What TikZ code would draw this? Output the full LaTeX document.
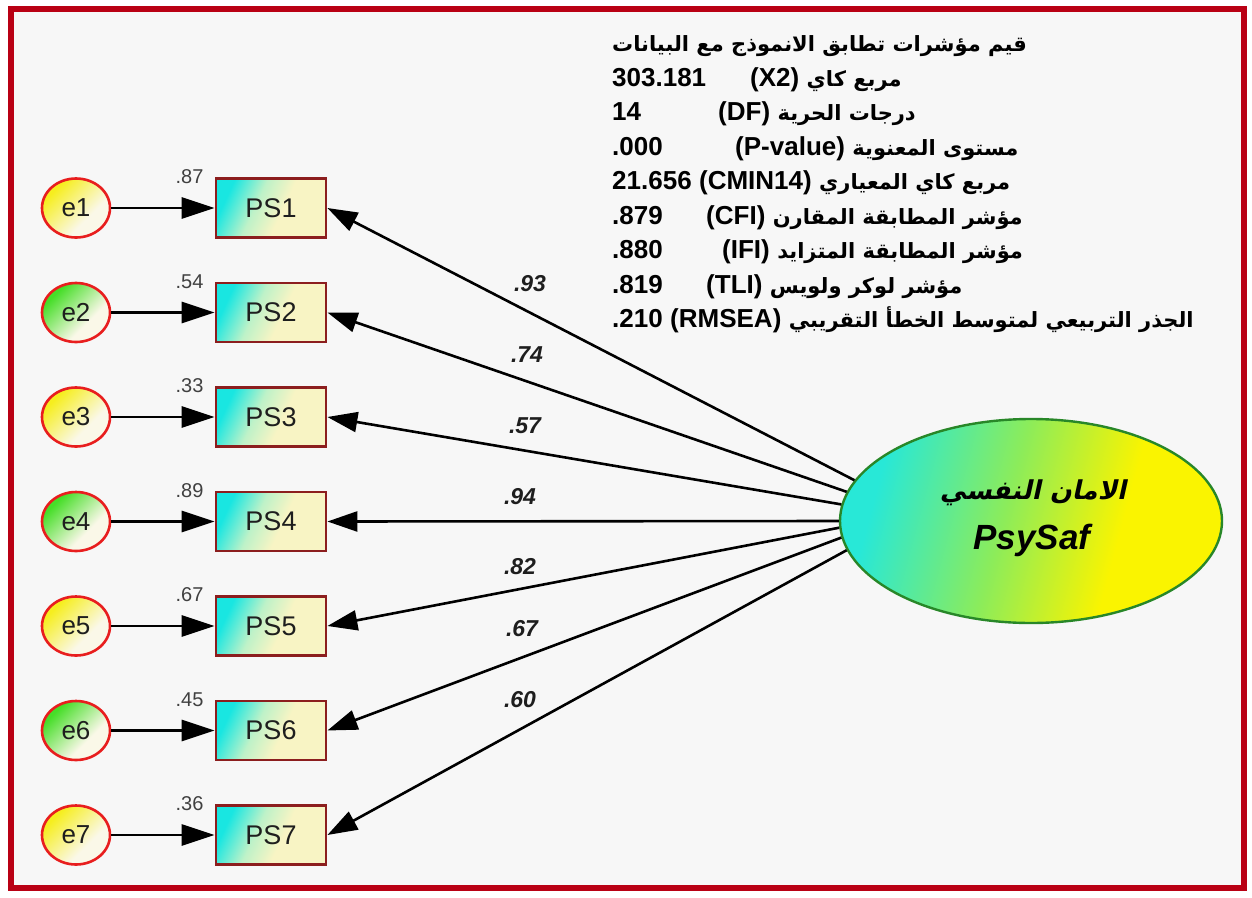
\documentclass[tikz,border=0pt]{standalone}
\usepackage{fontspec}
\setmainfont{Liberation Sans}
\newfontfamily\arab[Script=Arabic]{DejaVu Sans}
\newfontfamily\arabslant[Script=Arabic,FakeSlant=0.22]{DejaVu Sans Bold}
\TeXXeTstate=1
\usetikzlibrary{arrows.meta,shapes.geometric}

\definecolor{framered}{RGB}{185,0,20}
\definecolor{bggray}{RGB}{247,247,247}
\definecolor{ey}{RGB}{246,238,30}
\definecolor{eg}{RGB}{70,222,40}
\definecolor{ecream}{RGB}{250,248,232}
\definecolor{eborder}{RGB}{232,30,30}
\definecolor{bcyan}{RGB}{25,230,225}
\definecolor{bmid}{RGB}{190,242,200}
\definecolor{bcream}{RGB}{248,244,196}
\definecolor{bborder}{RGB}{140,30,30}
\definecolor{lcyan}{RGB}{40,232,215}
\definecolor{lgreen}{RGB}{140,236,90}
\definecolor{lyellow}{RGB}{250,244,0}
\definecolor{lborder}{RGB}{40,135,40}
\definecolor{txt}{RGB}{30,30,30}

% colour ramps for the three kinds of shapes
\pgfdeclarehorizontalshading{yelshade}{100bp}{color(0bp)=(ey); color(28bp)=(ey); color(62bp)=(ecream); color(100bp)=(ecream)}
\pgfdeclarehorizontalshading{grnshade}{100bp}{color(0bp)=(eg); color(28bp)=(eg); color(62bp)=(ecream); color(100bp)=(ecream)}
\pgfdeclarehorizontalshading{boxshade}{100bp}{color(0bp)=(bcyan); color(26bp)=(bcyan); color(42bp)=(bmid); color(56bp)=(bcream); color(100bp)=(bcream)}
\pgfdeclarehorizontalshading{latshade}{100bp}{color(0bp)=(lcyan); color(27bp)=(lcyan); color(46bp)=(lgreen); color(63bp)=(lyellow); color(100bp)=(lyellow)}

\begin{document}
\begin{tikzpicture}[x=1pt,y=-1pt,
  errnode/.style={ellipse, draw=eborder, line width=2.6pt, minimum width=68pt,
    minimum height=59pt, inner sep=0pt, shading angle=-45,
    font=\fontsize{26}{26}\selectfont, text=txt},
  obsbox/.style={rectangle, draw=bborder, line width=2.8pt, minimum width=110pt,
    minimum height=59pt, inner sep=0pt, shading=boxshade, shading angle=-25,
    font=\fontsize{27}{27}\selectfont, text=txt},
  latnode/.style={ellipse, draw=lborder, line width=2.4pt, minimum width=382pt,
    minimum height=204pt, inner sep=0pt, shading=latshade, shading angle=-15},
  errarrow/.style={line width=2.8pt, -{Triangle[length=33pt,width=21pt]}},
  loadarrow/.style={line width=2.6pt, -{Triangle[length=30pt,width=20pt]}},
  varlab/.style={font=\fontsize{20}{20}\selectfont, text=black!75, inner sep=0pt},
  loadlab/.style={font=\fontsize{23}{23}\selectfont\bfseries\itshape, text=txt, inner sep=0pt},
  numtxt/.style={anchor=base west, inner sep=0pt, font=\fontsize{26}{26}\selectfont\bfseries},
  artxt/.style={anchor=base west, inner sep=0pt, font=\fontsize{21}{21}\selectfont\arab\bfseries}
]
\useasboundingbox (0,0) rectangle (1252,897);
\fill[white] (0,0) rectangle (1252,897);
\draw[line width=6pt, framered, fill=bggray] (11,9) rectangle (1244,888);

% indicators, their error terms and squared multiple correlations
\foreach \i/\sh/\v in {1/yelshade/.87, 2/grnshade/.54, 3/yelshade/.33, 4/grnshade/.89,
                       5/yelshade/.67, 6/grnshade/.45, 7/yelshade/.36}{
  \pgfmathsetmacro\yy{208+104.5*(\i-1)}
  \node[errnode, shading=\sh] (e\i) at (76,\yy) {e\i};
  \node[obsbox] (PS\i) at (271,\yy) {PS\i};
  \draw[errarrow] (e\i) -- (PS\i);
  \node[varlab, anchor=east] (v\i) at ([xshift=-11pt]PS\i.north west) {\v};
}

% latent factor
\node[latnode] (lat) at (1031,521) {};
\node[font=\fontsize{26}{26}\selectfont\arabslant, text=black, inner sep=0pt]
  (latar) at (1033,493) {\beginR الامان النفسي\endR};
\node[font=\fontsize{35}{35}\selectfont\bfseries\itshape, text=black, inner sep=0pt]
  (laten) at (1032,540) {PsySaf};

% standardized loadings
\draw[loadarrow] (lat.167.9) -- (PS1.east);
\draw[loadarrow] (lat.171.3) -- (PS2.east);
\draw[loadarrow] (lat.175.2) -- (PS3.east);
\draw[loadarrow] (lat.180)   -- (PS4.east);
\draw[loadarrow] (lat.182.7) -- (PS5.east);
\draw[loadarrow] (lat.185.2) -- (PS6.east);
\draw[loadarrow] (lat.189)   -- (PS7.east);

\node[loadlab] (l1) at (530,284) {.93};
\node[loadlab] (l2) at (527,355) {.74};
\node[loadlab] (l3) at (525,426) {.57};
\node[loadlab] (l4) at (520,497) {.94};
\node[loadlab] (l5) at (520,567) {.82};
\node[loadlab] (l6) at (522,629) {.67};
\node[loadlab] (l7) at (520,700) {.60};

% fit indices
\node[artxt] (t0) at (612,51) {\beginR قيم مؤشرات تطابق الانموذج مع البيانات\endR};

\node[numtxt] (n1) at (612,86) {303.181};
\node[numtxt] (c1) at (750,86) {(X2)};
\node[artxt] (a1) at ([xshift=7pt]c1.base east) {\beginR مربع كاي\endR};

\node[numtxt] (n2) at (612,120.5) {14};
\node[numtxt] (c2) at (718,120.5) {(DF)};
\node[artxt] (a2) at ([xshift=7pt]c2.base east) {\beginR درجات الحرية\endR};

\node[numtxt] (n3) at (612,155) {.000};
\node[numtxt] (c3) at (735,155) {(P-value)};
\node[artxt] (a3) at ([xshift=7pt]c3.base east) {\beginR مستوى المعنوية\endR};

\node[numtxt] (n4) at (612,189.5) {21.656};
\node[numtxt] (c4) at ([xshift=7pt]n4.base east) {(CMIN14)};
\node[artxt] (a4) at ([xshift=7pt]c4.base east) {\beginR مربع كاي المعياري\endR};

\node[numtxt] (n5) at (612,224) {.879};
\node[numtxt] (c5) at (706,224) {(CFI)};
\node[artxt] (a5) at ([xshift=7pt]c5.base east) {\beginR مؤشر المطابقة المقارن\endR};

\node[numtxt] (n6) at (612,258.5) {.880};
\node[numtxt] (c6) at (722,258.5) {(IFI)};
\node[artxt] (a6) at ([xshift=7pt]c6.base east) {\beginR مؤشر المطابقة المتزايد\endR};

\node[numtxt] (n7) at (612,293) {.819};
\node[numtxt] (c7) at (706,293) {(TLI)};
\node[artxt] (a7) at ([xshift=7pt]c7.base east) {\beginR مؤشر لوكر ولويس\endR};

\node[numtxt] (n8) at (612,327.5) {.210};
\node[numtxt] (c8) at ([xshift=7pt]n8.base east) {(RMSEA)};
\node[artxt] (a8) at ([xshift=7pt]c8.base east) {\beginR الجذر التربيعي لمتوسط الخطأ التقريبي\endR};
\end{tikzpicture}
\end{document}
